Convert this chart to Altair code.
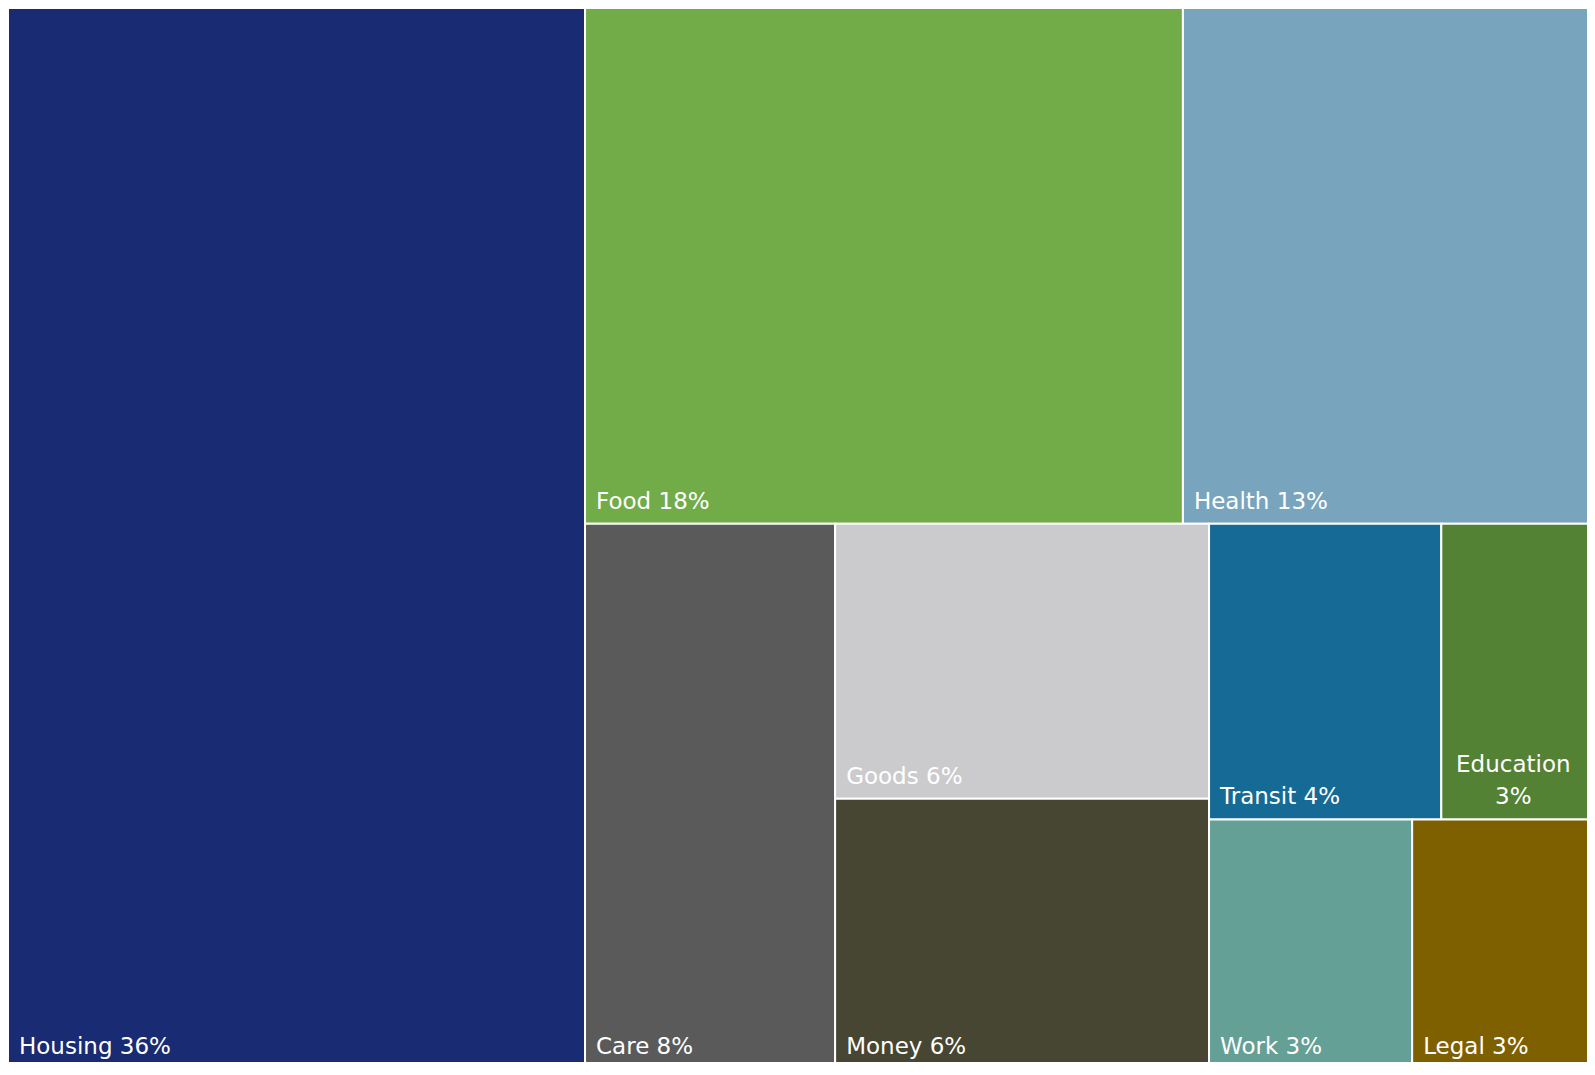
import altair as alt
import pandas as pd

# ---- data (shares estimated from tile areas in the reference) ----
names = ["Housing", "Food", "Health", "Care", "Goods", "Money",
         "Transit", "Education", "Work", "Legal"]
shares = [36.36, 18.31, 12.62, 8.10, 6.11, 6.00, 4.08, 2.70, 3.01, 2.71]
colors = ["#192b72", "#71ac49", "#78a5bd", "#5a5a5b", "#cbcbcd", "#474632",
          "#166a96", "#538235", "#64a095", "#7f6000"]
# strip (row / column) each tile belongs to in the treemap hierarchy
strips = [0, 1, 1, 2, 3, 3, 4, 4, 5, 6]

# ---- treemap layout (computed from the values) ----
# The treemap canvas is a little larger than the visible view, so it is
# cropped at the right and bottom edges as in the reference.
VIEW_W, VIEW_H = 1579, 1054
W, H = 1587, 1061
FS, LH, PAD_X, PAD_B = 23, 32, 11, 15
total = float(sum(shares))
unit = W * H / total

x0, y0, x1, y1 = 0.0, 0.0, float(W), float(H)
tiles = {}
for s in sorted(set(strips)):
    idx = [i for i in range(len(names)) if strips[i] == s]
    area = sum(shares[i] for i in idx) * unit
    dx, dy = x1 - x0, y1 - y0
    if dx >= dy:  # column on the left, tiles stacked
        w = area / dy
        yy = y0
        for i in idx:
            h = shares[i] * unit / w
            tiles[i] = (x0, yy, x0 + w, yy + h)
            yy += h
        x0 += w
    else:  # row at the top, tiles side by side
        h = area / dx
        xx = x0
        for i in idx:
            w = shares[i] * unit / h
            tiles[i] = (xx, y0, xx + w, y0 + h)
            xx += w
        y0 += h

rect_rows = []
left_rows = []
center_rows = []
for i, n in enumerate(names):
    a, b, c, d = tiles[i]
    pct = round(shares[i] / total * 100)
    rect_rows.append({"name": n, "x0": a, "y0": b, "x1": c, "y1": d})
    label = f"{n} {pct}%"
    est = len(label) * 0.6 * FS
    if est + 2 * PAD_X > (c - a):
        lines = [n, f"{pct}%"]
        block = max(len(t) for t in lines) * 0.58 * FS
        cx = a + PAD_X + 1 + block / 2
        for k, t in enumerate(lines):
            center_rows.append({"line": t, "lx": cx,
                                "ly": d - PAD_B - (len(lines) - 1 - k) * LH})
    else:
        left_rows.append({"line": label, "lx": a + PAD_X, "ly": d - PAD_B})

rect_df = pd.DataFrame(rect_rows)
left_df = pd.DataFrame(left_rows)
center_df = pd.DataFrame(center_rows)

xs = alt.Scale(domain=[0, W], range=[0, W], nice=False, zero=False)
ys = alt.Scale(domain=[0, H], range=[0, H], nice=False, zero=False)

rects = alt.Chart(rect_df).mark_rect(stroke="white", strokeWidth=2).encode(
    x=alt.X("x0:Q", scale=xs, axis=None),
    x2="x1:Q",
    y=alt.Y("y0:Q", scale=ys, axis=None),
    y2="y1:Q",
    color=alt.Color("name:N", scale=alt.Scale(domain=names, range=colors), legend=None),
)

text_style = dict(baseline="alphabetic", fontSize=FS, font="DejaVu Sans", color="white")

left_text = alt.Chart(left_df).mark_text(align="left", **text_style).encode(
    x=alt.X("lx:Q", scale=xs, axis=None),
    y=alt.Y("ly:Q", scale=ys, axis=None),
    text="line:N",
)
center_text = alt.Chart(center_df).mark_text(align="center", **text_style).encode(
    x=alt.X("lx:Q", scale=xs, axis=None),
    y=alt.Y("ly:Q", scale=ys, axis=None),
    text="line:N",
)

chart = alt.layer(rects, left_text, center_text).properties(
    width=VIEW_W, height=VIEW_H,
    autosize=alt.AutoSizeParams(type="none"),
    padding=0,
    background="white",
).configure_view(stroke=None)

chart.save("out.html", embed_options={"renderer": "svg", "actions": False})
